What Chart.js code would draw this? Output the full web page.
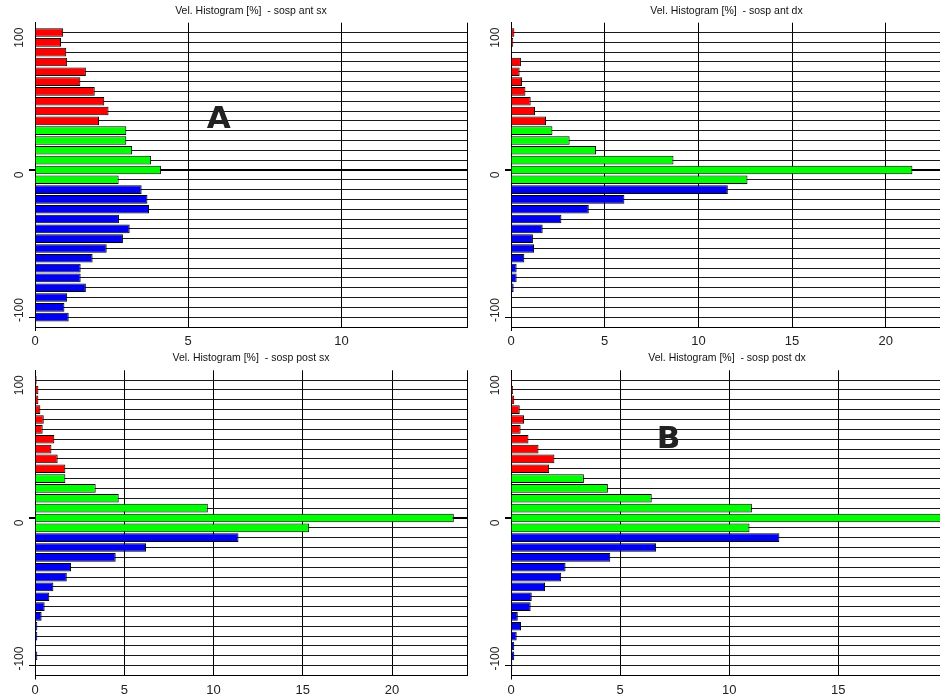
<!DOCTYPE html>
<html>
<head>
<meta charset="utf-8">
<script src="https://cdn.jsdelivr.net/npm/chart.js@4/dist/chart.umd.min.js"></script>
<style>
  html, body { margin: 0; padding: 0; background: #fff; overflow: hidden; }
  body { width: 940px; height: 697px; position: relative; }
  .panel { position: absolute; }
</style>
</head>
<body>
<div class="panel" style="left:0;top:0;width:470px;height:347px"><canvas id="antSx"></canvas></div>
<div class="panel" style="left:470px;top:0;width:480px;height:347px"><canvas id="antDx"></canvas></div>
<div class="panel" style="left:0;top:347px;width:470px;height:350px"><canvas id="postSx"></canvas></div>
<div class="panel" style="left:470px;top:347px;width:480px;height:350px"><canvas id="postDx"></canvas></div>
<script>
// velocity bins (centre of each class), top to bottom
const binCenters = [96.67, 90, 83.33, 76.67, 70, 63.33, 56.67, 50, 43.33, 36.67,
  30, 23.33, 16.67, 10, 3.33, -3.33,
  -10, -16.67, -23.33, -30, -36.67, -43.33, -50, -56.67, -63.33, -70, -76.67, -83.33, -90, -96.67];
// class borders, used for the horizontal grid
const binEdges = [100, 93.33, 86.67, 80, 73.33, 66.67, 60, 53.33, 46.67, 40, 33.33, 26.67, 20,
  13.33, 6.67, 0, -6.67, -13.33, -20, -26.67, -33.33, -40, -46.67, -53.33, -60, -66.67, -73.33,
  -80, -86.67, -93.33, -100];
const yTickLabels = [100, 0, -100];

// histogram values [%]
const antSx = [0.92, 0.85, 1.02, 1.05, 1.66, 1.48, 1.95, 2.26, 2.40, 2.09,
  2.98, 2.98, 3.17, 3.79, 4.11, 2.73,
  3.48, 3.67, 3.72, 2.74, 3.09, 2.87, 2.34, 1.88, 1.49, 1.49, 1.66, 1.05, 0.96, 1.10];
const antDx = [0.18, 0.12, 0.05, 0.53, 0.46, 0.59, 0.77, 1.05, 1.28, 1.87,
  2.21, 3.13, 4.54, 8.67, 21.42, 12.62,
  11.57, 6.05, 4.15, 2.69, 1.69, 1.17, 1.23, 0.71, 0.30, 0.30, 0.14, 0, 0, 0];
const postSx = [0.09, 0.19, 0.19, 0.30, 0.49, 0.43, 1.08, 0.92, 1.27, 1.70,
  1.70, 3.40, 4.69, 9.68, 23.46, 15.36,
  11.40, 6.22, 4.52, 2.02, 1.78, 1.03, 0.80, 0.54, 0.37, 0.13, 0.13, 0.06, 0.13, 0.04];
const postDx = [0.05, 0.09, 0.15, 0.40, 0.60, 0.44, 0.80, 1.26, 1.99, 1.75,
  3.34, 4.44, 6.45, 11.04, 19.8, 10.93,
  12.30, 6.65, 4.55, 2.50, 2.30, 1.56, 0.95, 0.90, 0.31, 0.46, 0.26, 0.15, 0.15, 0.06];

const FONT = '"Liberation Sans", Arial, sans-serif';
const clear = 'rgba(0,0,0,0)';

function barColor(center) {
  if (center > 33.34) return '#ff0000';
  if (center > -6.67) return '#00ff00';
  return '#0000f0';
}

// rotated labels on the velocity axis
const yLabelPlugin = {
  id: 'yLabels',
  afterDraw(chart) {
    const ctx = chart.ctx;
    const ys = chart.scales.y;
    ctx.save();
    ctx.fillStyle = '#222';
    ctx.font = '12px ' + FONT;
    ctx.textBaseline = 'middle';
    yTickLabels.forEach(v => {
      ctx.save();
      ctx.translate(chart.chartArea.left - 15.5, ys.getPixelForValue(v));
      ctx.rotate(-Math.PI / 2);
      ctx.textAlign = v === ys.max ? 'right' : (v === ys.min ? 'left' : 'center');
      ctx.fillText(String(v), 0, 0);
      ctx.restore();
    });
    ctx.restore();
  }
};

const letterPlugin = {
  id: 'letter',
  afterDatasetsDraw(chart, args, opts) {
    if (!opts.text) return;
    const ctx = chart.ctx;
    ctx.save();
    ctx.fillStyle = '#222';
    ctx.font = 'bold 31px "DejaVu Sans", sans-serif';
    ctx.textAlign = 'center';
    ctx.textBaseline = 'middle';
    ctx.fillText(opts.text, chart.scales.x.getPixelForValue(opts.x), chart.scales.y.getPixelForValue(opts.y));
    ctx.restore();
  }
};

function makeChart(id, title, values, xMax, xTicks, box, letter) {
  new Chart(document.getElementById(id), {
    type: 'bar',
    data: {
      datasets: [{
        data: values.map((v, i) => ({ x: v, y: binCenters[i] })),
        backgroundColor: ctx => barColor(binCenters[ctx.dataIndex]),
        borderColor: '#000',
        borderWidth: 1,
        barPercentage: 0.88,
        categoryPercentage: 1
      }]
    },
    options: {
      indexAxis: 'y',
      responsive: true,
      maintainAspectRatio: false,
      animation: false,
      layout: { padding: { left: 0, right: box.padRight, top: 0, bottom: 0 } },
      plugins: {
        legend: { display: false },
        tooltip: { enabled: false },
        title: {
          display: true, text: title, fullSize: false, color: '#111',
          font: { family: FONT, size: 10.5, weight: 'normal', lineHeight: 1 },
          padding: { top: box.titleTop, bottom: 6.5 }
        },
        letter: letter || {}
      },
      scales: {
        x: {
          type: 'linear', min: 0, max: xMax,
          afterBuildTicks: s => { s.ticks = xTicks.concat([xMax]).map(v => ({ value: v })); },
          afterFit: s => { s.height = box.xAxisH; },
          grid: {
            color: '#000', lineWidth: 1, tickLength: 4,
            tickColor: c => (c.tick && c.tick.value === 0 ? '#000' : clear)
          },
          border: { color: '#000', width: 1 },
          ticks: {
            color: '#222', padding: 3, maxRotation: 0, autoSkip: false,
            font: { family: FONT, size: 13 },
            callback: v => (xTicks.includes(v) ? String(v) : '')
          }
        },
        y: {
          type: 'linear', min: -100, max: 100,
          afterBuildTicks: s => { s.ticks = binEdges.map(v => ({ value: v })); },
          afterFit: s => { s.width = box.yAxisW; },
          grid: {
            color: c => (c.tick && c.tick.value === 0 ? '#000' : '#1a1a1a'),
            lineWidth: c => (c.tick && c.tick.value === 0 ? 2 : 1),
            tickLength: 6,
            tickColor: c => (c.tick && yTickLabels.includes(c.tick.value) ? '#000' : clear)
          },
          border: { color: '#000', width: 1 },
          ticks: { display: false }
        }
      }
    },
    plugins: [yLabelPlugin, letterPlugin]
  });
}

makeChart('antSx', 'Vel. Histogram [%]  - sosp ant sx', antSx, 14.1, [0, 5, 10],
  { padRight: 3, yAxisW: 35, xAxisH: 20, titleTop: 5.7 }, { text: 'A', x: 6.0, y: 37.6 });
makeChart('antDx', 'Vel. Histogram [%]  - sosp ant dx', antDx, 23, [0, 5, 10, 15, 20],
  { padRight: 8, yAxisW: 41, xAxisH: 20, titleTop: 5.7 });
makeChart('postSx', 'Vel. Histogram [%]  - sosp post sx', postSx, 24.2, [0, 5, 10, 15, 20],
  { padRight: 3, yAxisW: 35, xAxisH: 21.5, titleTop: 6.3 });
makeChart('postDx', 'Vel. Histogram [%]  - sosp post dx', postDx, 19.8, [0, 5, 10, 15],
  { padRight: 7, yAxisW: 41, xAxisH: 21.5, titleTop: 6.3 }, { text: 'B', x: 7.22, y: 56.4 });
</script>
</body>
</html>
